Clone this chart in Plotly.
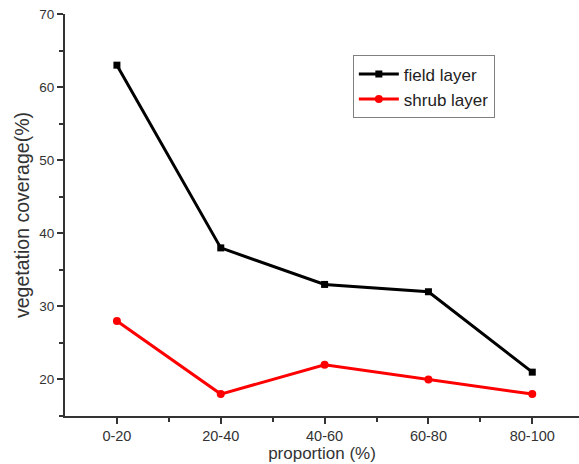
import plotly.graph_objects as go

categories = ["0-20", "20-40", "40-60", "60-80", "80-100"]
field_layer = [63, 38, 33, 32, 21]
shrub_layer = [28, 18, 22, 20, 18]
xpos = list(range(len(categories)))

fig = go.Figure()
fig.add_trace(go.Scatter(x=xpos, y=field_layer, mode="lines+markers", name="field layer",
                         line=dict(color="black", width=3),
                         marker=dict(symbol="square", size=7, color="black")))
fig.add_trace(go.Scatter(x=xpos, y=shrub_layer, mode="lines+markers", name="shrub layer",
                         line=dict(color="#ff0000", width=3),
                         marker=dict(symbol="circle", size=8, color="#ff0000")))

fam = "Liberation Sans, Arial, sans-serif"
fig.update_layout(
    width=579, height=464,
    margin=dict(l=65, r=0, t=14, b=48),
    paper_bgcolor="white", plot_bgcolor="white",
    font=dict(family=fam, size=14, color="#333333"),
    showlegend=True,
    legend=dict(x=0.56, y=0.897, xanchor="left", yanchor="top",
                bordercolor="#808080", borderwidth=1, bgcolor="white",
                font=dict(family=fam, size=17, color="#222222"),
                tracegroupgap=0, itemwidth=40),
    xaxis=dict(range=[-0.5, 4.45], tickvals=xpos, ticktext=categories, automargin=False,
               showgrid=False, zeroline=False, showline=True, linecolor="#333333", linewidth=2,
               ticks="outside", ticklen=6, tickwidth=1.5, tickcolor="#333333",
               tickfont=dict(size=14.5),
               minor=dict(tickvals=[0.5, 1.5, 2.5, 3.5], ticks="outside", ticklen=4, tickcolor="#333333"),
               title=dict(text="proportion (%)", font=dict(size=17, color="#333333"), standoff=2)),
    yaxis=dict(range=[15, 70], tickvals=[20, 30, 40, 50, 60, 70], automargin=False,
               showgrid=False, zeroline=False, showline=True, linecolor="#333333", linewidth=2,
               ticks="outside", ticklen=6, tickwidth=1.5, tickcolor="#333333",
               tickfont=dict(size=13.5),
               minor=dict(tickvals=[15, 25, 35, 45, 55, 65], ticks="outside", ticklen=4, tickcolor="#333333"),
               title=dict(text="vegetation coverage(%)", font=dict(size=19.5, color="#333333"), standoff=4)),
)
fig.write_html("out.html", post_script="document.body.style.margin='0';",
               config={"displayModeBar": False})
